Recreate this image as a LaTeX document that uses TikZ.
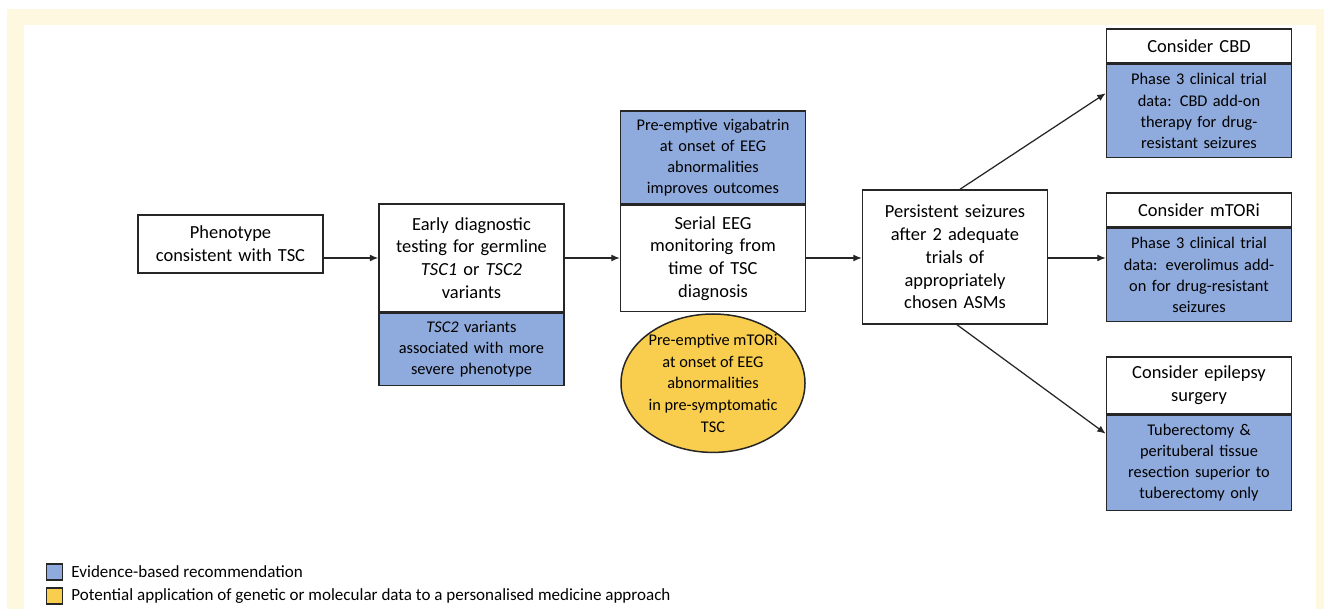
\documentclass[tikz,border=0pt]{standalone}
\usepackage{fontspec}
\setmainfont{Carlito}
\usetikzlibrary{positioning,shapes.geometric,arrows.meta,calc}
\definecolor{evblue}{HTML}{8FAADC}
\definecolor{potyellow}{HTML}{F9CD4E}
\definecolor{cream}{HTML}{FFF8E1}
\definecolor{edge}{HTML}{262626}

\begin{document}
\begin{tikzpicture}[x=0.2mm,y=-0.2mm,
	box/.style={draw=edge, line width=0.3mm, fill=white, inner sep=1mm,
		text width=35mm, align=center, font=\fontsize{10.5}{13}\selectfont},
	evbox/.style={box, fill=evblue, font=\fontsize{9.3}{12}\selectfont},
	potell/.style={ellipse, draw=edge, line width=0.3mm, fill=potyellow, inner sep=0pt,
		minimum width=36.8mm, minimum height=25.4mm, align=center,
		font=\fontsize{9.3}{12.3}\selectfont},
	arr/.style={draw=edge, line width=0.25mm, -{Latex[length=1.7mm,width=1.4mm]}},
	key/.style={draw=edge, line width=0.25mm, minimum size=3.2mm, inner sep=0pt},
	keytext/.style={anchor=west, inner sep=0pt, font=\fontsize{9.7}{11.5}\selectfont}]

% background frame
\fill[cream] (7,9) rectangle (1324,609);
\fill[white] (24,25) rectangle (1316,609);
\useasboundingbox (0,0) rectangle (1324,609);

% left part
\node[box, minimum height=11.6mm] (pheno) at (230.5,244) {Phenotype\\consistent with TSC};
\node[box, minimum height=21.6mm] (early) at (471.5,258)
	{Early diagnostic\\testing for germline\\\textit{TSC1} or \textit{TSC2}\\variants};
\node[evbox, minimum height=14.4mm, below=0pt of early] (earlyev)
	{\textit{TSC2} variants\\associated with more\\severe phenotype};

% EEG monitoring
\node[box, minimum height=21.2mm] (eeg) at (713,258.5)
	{Serial EEG\\monitoring from\\time of TSC\\diagnosis};
\node[evbox, minimum height=18.6mm, above=0pt of eeg] (eegev)
	{Pre-emptive vigabatrin\\at onset of EEG\\abnormalities\\improves outcomes};
\node[potell, below=0.2mm of eeg] (eegpot)
	{Pre-emptive mTORi\\at onset of EEG\\abnormalities\\in pre-symptomatic\\TSC};

\node[box, minimum height=26.8mm] (persist) at (955,257)
	{Persistent seizures\\after 2 adequate\\trials of\\appropriately\\chosen ASMs};

% options on the right
\node[box, minimum height=6.8mm] (cbd) at (1199,46) {Consider CBD};
\node[evbox, minimum height=18.6mm, below=0pt of cbd] (cbdev)
	{Phase 3 clinical trial\\data: CBD add-on\\therapy for drug-\\resistant seizures};
\node[box, minimum height=6.8mm] (mtori) at (1199,210) {Consider mTORi};
\node[evbox, minimum height=18.6mm, below=0pt of mtori] (mtoriev)
	{Phase 3 clinical trial\\data: everolimus add-\\on for drug-resistant\\seizures};
\node[box, minimum height=11.4mm] (surg) at (1199,385.5) {Consider epilepsy\\surgery};
\node[evbox, minimum height=19mm, below=0pt of surg] (surgev)
	{Tuberectomy \&\\perituberal tissue\\resection superior to\\tuberectomy only};

% arrows
\draw[arr] (pheno.east |- early.west) -- (early.west);
\draw[arr] (early.east) -- (eeg.west |- early.east);
\draw[arr] (eeg.east |- early.east) -- (persist.west |- early.east);
\draw[arr] ([xshift=1mm]persist.north) -- ($(cbd.north west)!0.5!(cbdev.south west)$);
\draw[arr] (persist.east |- early.east) -- (mtoriev.west |- early.east);
\draw[arr] ([xshift=0.4mm]persist.south) -- ($(surg.north west)!0.5!(surgev.south west)$);

% legend
\node[key, fill=evblue] (keyev) at (54.5,572) {};
\node[key, fill=potyellow] (keypot) at (54.5,596) {};
\node[keytext, right=1.6mm of keyev] (keyevtext) {Evidence-based recommendation};
\node[keytext, right=1.6mm of keypot] (keypottext)
	{Potential application of genetic or molecular data to a personalised medicine approach};

\end{tikzpicture}
\end{document}
